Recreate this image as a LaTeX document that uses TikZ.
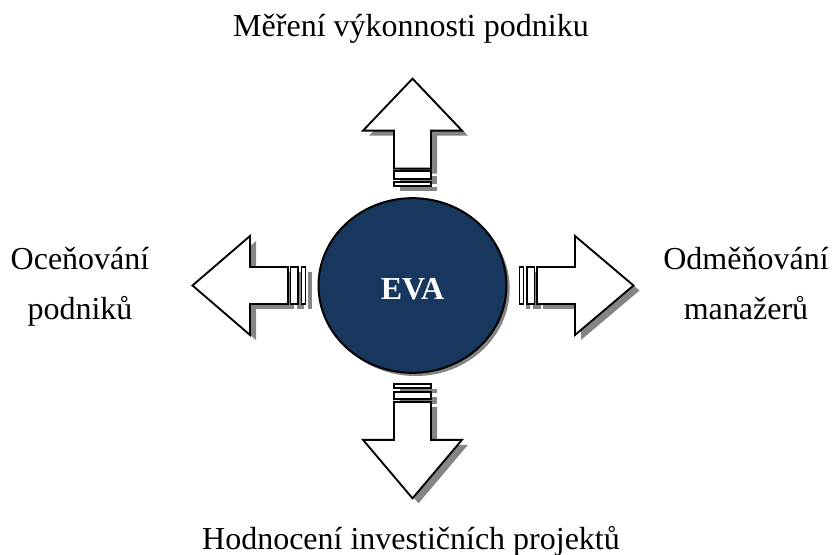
\documentclass[tikz,border=0pt]{standalone}
\usepackage{fontspec}
\setmainfont{Liberation Serif}
\usetikzlibrary{shapes.geometric,shadows,calc}

\definecolor{evablue}{HTML}{17375E}
\definecolor{shadowgray}{HTML}{858585}

\tikzset{
  label text/.style={font=\fontsize{24}{37.5}\selectfont, inner sep=0pt, anchor=base},
  arrow body/.style={draw=black, line width=1.4pt, fill=white, line join=miter},
  arrow shadow/.style={fill=shadowgray},
}

% #1 = outer end (at the ellipse), #2 = angle, #3 = tip position
\newcommand{\evaarrow}[3]{%
  \begin{scope}[shift={(#1)}, shift={(6,5)}, rotate=#2]
    \fill[arrow shadow] (0,-18.5) rectangle (4,18.5);
    \fill[arrow shadow] (7.5,-18.5) rectangle (15,18.5);
    \fill[arrow shadow] (17.5,-18.5) -- (55.5,-18.5) -- (55.5,-49.5) -- (#3,0)
      -- (55.5,49.5) -- (55.5,18.5) -- (17.5,18.5) -- cycle;
  \end{scope}
  \begin{scope}[shift={(#1)}, rotate=#2]
    \draw[arrow body] (0,-18.5) rectangle (4,18.5);
    \draw[arrow body] (7.5,-18.5) rectangle (15,18.5);
    \draw[arrow body] (17.5,-18.5) -- (55.5,-18.5) -- (55.5,-49.5) -- (#3,0)
      -- (55.5,49.5) -- (55.5,18.5) -- (17.5,18.5) -- cycle;
  \end{scope}}

\begin{document}
\begin{tikzpicture}[x=0.75pt, y=-0.75pt]
  \useasboundingbox (0,0) rectangle (832,555);

  % Elipsa EVA
  \node[ellipse, draw=black, line width=1.5pt, fill=evablue,
        minimum width=141pt, minimum height=131pt, inner sep=0pt,
        drop shadow={shadow xshift=2.4pt, shadow yshift=-2.4pt, fill=shadowgray, opacity=1}]
        (eva) at (412.5,285.5) {};
  \node[font=\fontsize{24}{28}\bfseries, text=white, inner sep=0pt]
        (evatext) at ($(eva.center)+(0,3.5)$) {EVA};

  % Konce sipek u elipsy
  \coordinate (topend)    at ($(eva.north)+(0,-11)$);
  \coordinate (leftend)   at ($(eva.west)+(-12,0)$);
  \coordinate (rightend)  at ($(eva.east)+(12,0)$);
  \coordinate (bottomend) at ($(eva.south)+(0,10.5)$);

  % Sipky
  \evaarrow{topend}{90}{107.5}
  \evaarrow{leftend}{180}{113}
  \evaarrow{rightend}{0}{114}
  \evaarrow{bottomend}{-90}{114}

  % Popisky
  \node[label text] (mereni) at (411,37) {Měření výkonnosti podniku};
  \node[label text] (oceneni1) at (80,270) {Oceňování};
  \node[label text] (oceneni2) at (80,320) {podniků};
  \node[label text] (odmeny1) at (746,270) {Odměňování};
  \node[label text] (odmeny2) at (746,320) {manažerů};
  \node[label text] (hodnoceni) at (411,550) {Hodnocení investičních projektů};
\end{tikzpicture}
\end{document}
